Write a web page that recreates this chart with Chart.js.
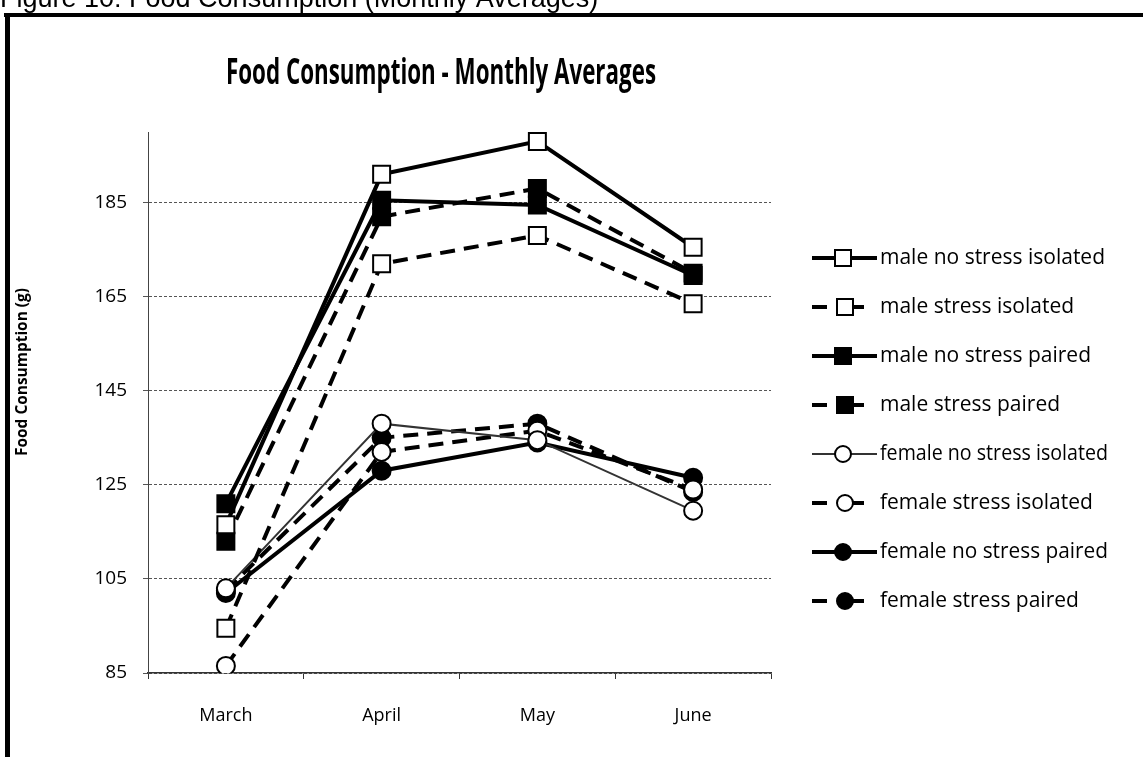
<!DOCTYPE html>
<html><head><meta charset="utf-8">
<script src="https://cdn.jsdelivr.net/npm/chart.js@4/dist/chart.umd.min.js"></script>
<style>html,body{margin:0;padding:0;background:#fff;}#wrap{position:relative;width:1143px;height:757px;}</style>
</head><body><div id="wrap"><canvas id="c" width="1143" height="757"></canvas></div>
<script>
const months = ['March', 'April', 'May', 'June'];
const yTicks = [85, 105, 125, 145, 165, 185];
const maleNoStressIsolated = [116.5, 191, 198, 175.5];
const maleStressIsolated = [94.5, 172, 178, 163.5];
const maleNoStressPaired = [121, 185.5, 184.5, 169.5];
const maleStressPaired = [113, 182, 188, 170];
const femaleNoStressIsolated = [103, 138, 134.5, 119.5];
const femaleStressIsolated = [86.5, 132, 136.5, 124];
const femaleNoStressPaired = [102, 128, 134, 126.5];
const femaleStressPaired = [102.5, 135, 138, 123.5];
const seriesNames = ['male no stress isolated', 'male stress isolated', 'male no stress paired', 'male stress paired',
  'female no stress isolated', 'female stress isolated', 'female no stress paired', 'female stress paired'];
const titleText = 'Food Consumption - Monthly Averages';
const yTitleText = 'Food Consumption (g)';
const headerText = 'Figure 10: Food Consumption (Monthly Averages)';

const DASH = [15, 9];
function ds(label, data, dashed, style, filled, thin) {
  return {
    label, data,
    borderColor: thin ? '#333' : '#000',
    borderWidth: thin ? 2 : 4,
    borderDash: dashed ? DASH : [],
    pointStyle: style,
    pointRadius: style === 'rect' ? 12 : 9,
    pointHoverRadius: style === 'rect' ? 12 : 9,
    pointBorderWidth: 2,
    pointBorderColor: '#000',
    pointBackgroundColor: filled ? '#000' : '#fff',
    tension: 0, fill: false
  };
}
const datasets = [
  ds(seriesNames[0], maleNoStressIsolated, false, 'rect', false),
  ds(seriesNames[1], maleStressIsolated, true, 'rect', false),
  ds(seriesNames[2], maleNoStressPaired, false, 'rect', true),
  ds(seriesNames[3], maleStressPaired, true, 'rect', true),
  ds(seriesNames[4], femaleNoStressIsolated, false, 'circle', false, true),
  ds(seriesNames[5], femaleStressIsolated, true, 'circle', false),
  ds(seriesNames[6], femaleNoStressPaired, false, 'circle', true),
  ds(seriesNames[7], femaleStressPaired, true, 'circle', true)
];

const decor = {
  id: 'decor',
  beforeDraw(chart) {
    const ctx = chart.ctx;
    ctx.save(); ctx.fillStyle = '#fff'; ctx.fillRect(0, 0, chart.width, chart.height); ctx.restore();
  },
  afterDraw(chart) {
    const ctx = chart.ctx;
    ctx.save();
    ctx.fillStyle = '#000';
    // header (cut at top)
    ctx.font = '27px "Liberation Sans", Arial, sans-serif';
    ctx.textAlign = 'left'; ctx.textBaseline = 'alphabetic';
    ctx.fillText(headerText, 0, 7);
    // frame
    ctx.fillRect(4, 13, 1139, 4);
    ctx.fillRect(5, 13, 5, 744);
    // title
    ctx.font = 'bold 35px "Open Sans", sans-serif';
    ctx.textAlign = 'center'; ctx.textBaseline = 'middle';
    ctx.fillText(titleText, 441, 74, 430);
    // y title
    ctx.save();
    ctx.translate(22, 372); ctx.rotate(-Math.PI / 2);
    ctx.font = 'bold 16px "Open Sans", sans-serif';
    ctx.fillText(yTitleText, 0, 0, 168);
    ctx.restore();
    // legend
    chart.data.datasets.forEach((d, i) => {
      const y = 258 + i * 49;
      const dashed = d.borderDash && d.borderDash.length;
      ctx.save();
      ctx.strokeStyle = d.borderColor; ctx.lineWidth = d.borderWidth;
      ctx.beginPath();
      if (dashed) {
        ctx.moveTo(812, y); ctx.lineTo(827, y);
        ctx.moveTo(848, y); ctx.lineTo(864, y);
      } else {
        ctx.moveTo(812, y); ctx.lineTo(877, y);
      }
      ctx.stroke();
      const mx = dashed ? 845 : 843;
      ctx.lineWidth = 2; ctx.strokeStyle = '#000'; ctx.fillStyle = d.pointBackgroundColor;
      ctx.beginPath();
      if (d.pointStyle === 'rect') ctx.rect(mx - 8, y - 8, 16, 16);
      else ctx.arc(mx, y, 8, 0, Math.PI * 2);
      ctx.fill(); ctx.stroke();
      ctx.restore();
      ctx.fillStyle = '#000';
      ctx.font = '21px "Open Sans", sans-serif';
      ctx.textAlign = 'left'; ctx.textBaseline = 'middle';
      ctx.fillText(d.label, 880, y, 228);
    });
    ctx.restore();
  }
};

new Chart(document.getElementById('c'), {
  type: 'line',
  data: { labels: months, datasets },
  plugins: [decor],
  options: {
    responsive: false, animation: false, devicePixelRatio: 1,
    layout: { padding: { left: 0, right: 372, top: 132, bottom: 0 } },
    plugins: { legend: { display: false }, title: { display: false }, tooltip: { enabled: false } },
    scales: {
      x: {
        type: 'category', offset: true,
        grid: { offset: true, drawOnChartArea: false, drawTicks: true, tickLength: 6, color: '#333' },
        border: { color: '#333', width: 1.5 },
        ticks: { color: '#000', font: { family: 'Open Sans', size: 18 }, padding: 26 },
        afterFit(s) { s.height = 84; }
      },
      y: {
        min: 85, max: 200,
        afterBuildTicks(s) { s.ticks = yTicks.map(v => ({ value: v })); },
        grid: { color: '#555', lineWidth: 1, tickLength: 5 },
        border: { color: '#444', width: 1, dash: [3, 2] },
        ticks: { color: '#000', font: { family: 'Open Sans', size: 19 }, padding: 16 },
        afterFit(s) { s.width = 148; }
      }
    }
  }
});
</script></body></html>
